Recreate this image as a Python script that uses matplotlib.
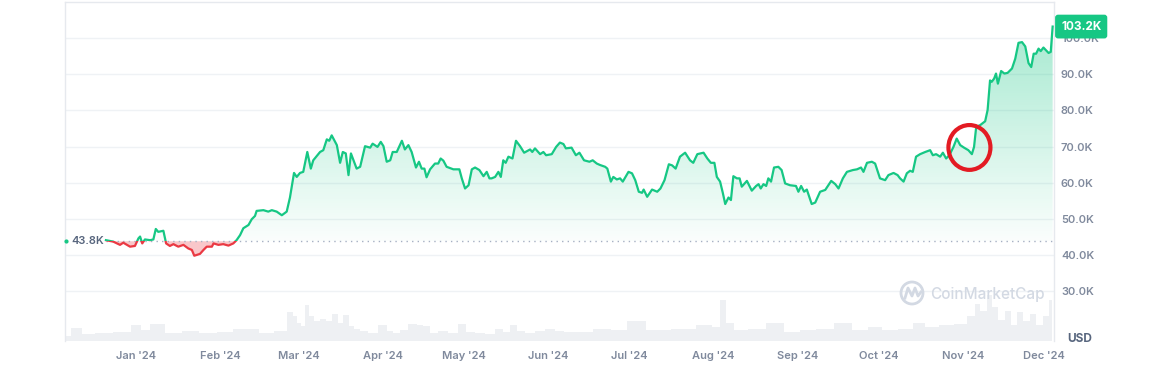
import numpy as np
import pandas as pd
import matplotlib
matplotlib.use('Agg')
import matplotlib.pyplot as plt
from matplotlib.patches import Ellipse, Rectangle
from matplotlib.path import Path
from matplotlib.colors import LinearSegmentedColormap
from matplotlib.lines import Line2D

plt.rcParams['font.family'] = ['Inter', 'DejaVu Sans']

# dias contados a partir de 1 jan 2024, preco em milhares de USD
start = pd.Timestamp('2024-01-01')
price_days = [-11.1, -8.4, -5.9, -4.7, -2.2, -0.4, 0.9, 1.5, 2.3, 3.3, 5.2, 6.4, 7.3, 8.2, 10.1,
              11.1, 12.5, 13.8, 15.6, 17.5, 19.3, 20.6, 21.5, 23.6, 24.9, 26.1, 28.0, 28.6, 30.4,
              32.2, 34.1, 35.9, 37.1, 38.4, 39.6, 41.5, 42.7, 43.9, 44.5, 47.0, 48.8, 50.1, 51.9,
              53.8, 55.6, 56.8, 58.3, 59.3, 60.5, 61.7, 63.2, 64.5, 65.4, 67.9, 69.1, 70.4, 71.3,
              72.2, 74.1, 75.3, 76.3, 77.4, 78.4, 79.3, 81.4, 82.7, 84.5, 86.4, 87.3, 89.1, 90.3,
              91.3, 92.5, 93.8, 94.7, 96.2, 98.1, 99.2, 100.5, 101.7, 103.3, 104.4, 105.4, 106.4,
              107.2, 108.5, 110.3, 111.5, 112.4, 113.4, 114.6, 117.1, 119.3, 120.2, 121.4, 122.7,
              123.9, 125.1, 126.7, 128.2, 129.4, 130.4, 131.2, 132.5, 133.7, 134.6, 135.5, 136.4,
              137.4, 138.9, 140.2, 141.7, 143.2, 145.4, 146.2, 147.2, 149.1, 150.3, 151.3, 153.4,
              155.0, 156.4, 157.7, 158.6, 160.7, 162.3, 163.6, 165.3, 167.3, 168.5, 170.0, 171.2,
              173.1, 173.9, 175.2, 176.1, 177.4, 178.6, 179.6, 181.7, 183.0, 184.2, 185.5, 186.7,
              187.3, 188.6, 190.4, 192.3, 193.5, 195.0, 196.6, 197.8, 199.1, 200.7, 202.6, 204.4,
              205.6, 207.1, 209.4, 210.8, 212.1, 213.4, 214.3, 215.5, 216.5, 217.4, 218.6, 219.5,
              220.4, 221.7, 222.7, 223.5, 225.4, 227.2, 228.8, 229.7, 230.5, 231.5, 232.5, 233.3,
              234.3, 235.4, 237.0, 238.2, 239.5, 241.3, 243.5, 244.4, 245.4, 246.5, 247.5, 249.3,
              250.6, 252.4, 254.3, 256.5, 258.0, 259.2, 260.8, 262.3, 264.5, 266.0, 267.5, 268.4,
              269.7, 271.5, 272.7, 274.5, 276.4, 277.6, 279.5, 281.0, 281.9, 283.2, 284.4, 285.6,
              286.6, 287.8, 289.3, 291.2, 293.0, 294.0, 295.2, 296.7, 297.7, 298.9, 300.1, 301.6,
              302.8, 304.1, 305.5, 307.1, 308.4, 309.2, 310.0, 311.4, 313.3, 314.2, 315.1, 315.7,
              316.6, 317.3, 318.0, 319.2, 320.4, 321.6, 323.2, 324.4, 325.6, 326.9, 328.1, 329.3,
              330.3, 331.2, 332.1, 333.0, 333.8, 334.8, 335.8, 336.7, 337.5, 338.2]
price_k = [44.1, 43.7, 42.8, 43.4, 42.3, 42.5, 44.6, 45.1, 43.2, 44.3, 44.1, 44.3, 47.2, 46.4, 46.7,
           43.2, 42.5, 43.0, 42.3, 42.8, 41.8, 41.4, 39.8, 40.3, 41.4, 42.3, 42.3, 43.2, 42.8,
           43.0, 42.6, 43.2, 44.1, 45.5, 47.4, 48.3, 49.9, 50.8, 52.2, 52.4, 52.0, 52.4, 52.0,
           51.0, 52.0, 55.9, 62.7, 61.6, 62.7, 63.0, 68.5, 63.9, 66.2, 68.5, 69.0, 72.0, 71.6,
           73.1, 70.4, 65.5, 68.5, 68.1, 62.1, 68.1, 63.9, 64.4, 70.1, 69.7, 70.8, 69.9, 71.3,
           70.1, 65.8, 66.2, 68.5, 68.5, 71.6, 69.2, 70.4, 68.5, 64.2, 65.8, 63.9, 63.9,
           61.5, 63.7, 65.3, 65.3, 66.7, 66.1, 64.4, 63.7, 63.7, 61.2, 58.4, 59.3,
           63.7, 64.2, 63.5, 61.8, 63.0, 61.2, 61.2, 61.6, 63.0, 61.6, 66.2, 65.5,
           67.2, 66.7, 71.6, 70.1, 68.3, 69.2, 68.5, 69.5, 67.9, 68.5, 67.6, 67.9,
           69.9, 71.1, 70.7, 69.5, 69.7, 67.6, 68.3, 66.2, 65.8, 66.2, 65.3, 64.9,
           64.4, 63.9, 60.3, 61.6, 60.9, 61.2, 60.3, 63.0, 62.6, 60.7, 57.5, 57.2,
           58.1, 56.1, 58.1, 57.5, 58.4, 60.7, 65.1, 64.8, 63.9, 67.2, 68.3, 66.2,
           65.5, 67.9, 68.3, 66.7, 65.5, 65.5, 61.6, 60.3, 57.2, 54.1, 55.9, 55.2,
           61.8, 61.2, 61.2, 58.9, 60.5, 57.8, 59.1, 59.6, 58.4, 59.6, 59.1, 61.2,
           60.3, 64.2, 64.4, 63.5, 59.8, 59.3, 59.1, 57.5, 59.1, 57.5, 58.1, 54.1,
           54.5, 57.5, 58.0, 60.5, 59.6, 58.4, 61.2, 63.0, 63.5, 63.7, 64.2, 63.0,
           65.5, 65.8, 65.3, 61.2, 60.7, 62.1, 62.7, 62.1, 61.2, 60.3, 62.6, 63.3,
           63.0, 67.2, 67.9, 68.5, 69.0, 67.6, 67.9, 67.2, 68.3, 66.7, 67.6, 69.9,
           72.2, 70.4, 69.7, 69.0, 67.9, 69.9, 75.5, 75.9, 77.0, 80.1, 88.3, 87.9,
           88.8, 90.2, 87.4, 90.9, 90.2, 90.4, 91.6, 94.3, 98.7, 98.9, 97.7, 93.1,
           92.0, 95.7, 95.7, 97.1, 96.4, 97.4, 96.6, 95.9, 96.2, 103.2]

# volume (bilhoes USD, estimado pela altura das barras)
vol_days = [-26.2, -21.9, -18.2, -12.1, -4.7, 0.9, 2.7, 7.6, 13.8, 20.5, 26.1, 33.5, 38.4, 42.7,
            48.2, 53.8, 57.5, 58.7, 59.9, 61.7, 63.2, 64.8, 66.4, 69.1, 71.0, 73.4, 75.3, 77.5,
            79.6, 81.4, 83.9, 87.0, 91.3, 93.7, 96.2, 98.7, 102.3, 104.8, 107.2, 109.7, 113.4,
            117.1, 120.2, 123.2, 126.9, 130.6, 134.3, 136.8, 139.2, 141.7, 145.4, 149.1, 152.8,
            156.5, 159.4, 165.0, 172.5, 178.0, 184.4, 192.2, 202.8, 210.7, 214.6, 216.7, 218.7,
            222.6, 229.2, 235.8, 242.4, 247.6, 254.2, 260.8, 267.4, 272.7, 277.9, 284.5, 288.5,
            293.8, 299.0, 304.3, 308.9, 310.2, 312.9, 314.8, 316.8, 319.5, 321.4, 324.1, 326.1,
            328.7, 330.7, 333.3, 335.9, 337.9]
vol_bn = [15, 39, 21, 24, 27, 48, 33, 51, 24, 30, 24, 27, 36, 36,
          24, 30, 87, 75, 54, 45, 108, 75, 60, 66, 60, 81, 54, 78,
          45, 36, 30, 24, 48, 30, 24, 33, 51, 48, 45, 24, 30,
          24, 51, 27, 24, 21, 36, 27, 48, 30, 24, 30, 36,
          30, 27, 27, 36, 33, 60, 33, 36, 48, 42, 123, 54,
          33, 36, 54, 27, 33, 36, 54, 33, 42, 33, 36, 54,
          42, 48, 51, 75, 111, 90, 138, 102, 63, 90, 48, 87,
          60, 81, 48, 75, 123]

base_k = 43.8
last_k = 103.2
y_ticks = [30, 40, 50, 60, 70, 80, 90, 100]
month_labels = ["Jan '24", "Feb '24", "Mar '24", "Apr '24", "May '24", "Jun '24",
                "Jul '24", "Aug '24", "Sep '24", "Oct '24", "Nov '24", "Dec '24"]

green = '#16c784'
red = '#ea3943'
grey_txt = '#808a9d'

x = np.array(price_days)
y = np.array(price_k)
xmin, xmax = -26.2, 338.7
ymin, ymax = 16.2, 110

fig = plt.figure(figsize=(11.61, 3.75), dpi=100)
rect = [65 / 1161, 1 - 341 / 375, (1054 - 65) / 1161, 339 / 375]
axv = fig.add_axes(rect, zorder=1)
ax = fig.add_axes(rect, zorder=2)
ax.patch.set_visible(False)

# volume ao fundo
axv.fill_between(vol_days, vol_bn, step='mid', color='#eef0f3', lw=0)
axv.set_xlim(xmin, xmax)
axv.set_ylim(0, 1017)
axv.axis('off')

ax.set_xlim(xmin, xmax)
ax.set_ylim(ymin, ymax)

# preenchimento verde com degrade
poly = ax.fill_between(x, y, base_k, where=y >= base_k, interpolate=True,
                       facecolor='none', edgecolor='none')
clip = Path.make_compound_path(*poly.get_paths())
cmap = LinearSegmentedColormap.from_list('g', [(0.086, 0.78, 0.52, 0.02), (0.086, 0.78, 0.52, 0.42)])
grad = np.linspace(0, 1, 256).reshape(-1, 1)
im = ax.imshow(grad, cmap=cmap, origin='lower', aspect='auto',
               extent=[xmin, xmax, base_k, ymax], zorder=1)
im.set_clip_path(clip, transform=ax.transData)
ax.set_xlim(xmin, xmax)
ax.set_ylim(ymin, ymax)

# preenchimento vermelho abaixo da base
ax.fill_between(x, y, base_k, where=y < base_k, interpolate=True,
                facecolor=red, alpha=0.28, edgecolor='none', zorder=1)

# linha: verde acima da base, vermelha abaixo
up = Rectangle((xmin, base_k), xmax - xmin, 200, transform=ax.transData)
down = Rectangle((xmin, base_k - 200), xmax - xmin, 200, transform=ax.transData)
l1, = ax.plot(x, y, color=green, lw=1.6, zorder=4, solid_joinstyle='round')
l1.set_clip_path(up)
l2, = ax.plot(x, y, color=red, lw=1.6, zorder=4, solid_joinstyle='round')
l2.set_clip_path(down)

ax.hlines(base_k, x[0], xmax, colors='#a6b0c3', lw=1, linestyles=(0, (1, 3)), zorder=2)
ax.plot([xmin + 0.5], [base_k], 'o', color=green, ms=2, zorder=4, clip_on=False)
ax.text(-23.8, base_k, '43.8K', ha='left', va='center', fontsize=8,
        fontweight='semibold', color='#58667e', zorder=5)

# eixos
ax.yaxis.tick_right()
ax.set_yticks(y_ticks)
ax.set_yticklabels([f'{v:.1f}K' for v in y_ticks])
ax.grid(axis='y', color='#eff2f5', lw=1)
ax.set_axisbelow(True)
months = pd.date_range('2024-01-01', '2024-12-01', freq='MS')
ax.set_xticks((months - start).days)
ax.set_xticklabels(month_labels)
ax.tick_params(axis='x', length=0, pad=7, labelsize=8, labelcolor=grey_txt)
ax.tick_params(axis='y', length=0, pad=5, labelsize=8, labelcolor=grey_txt)
for lab in ax.get_yticklabels() + ax.get_xticklabels():
    lab.set_fontweight('semibold')
for s in ['top', 'left', 'right']:
    ax.spines[s].set_color('#e6e9ee')
    ax.spines[s].set_linewidth(1)
ax.spines['bottom'].set_visible(False)

# etiqueta do ultimo preco
ax.annotate('103.2K', xy=(1, last_k), xycoords=('axes fraction', 'data'),
            xytext=(7, 0), textcoords='offset pixels', ha='left', va='center',
            fontsize=8.5, fontweight='bold', color='white', zorder=10, annotation_clip=False,
            bbox=dict(boxstyle='round,pad=0.5,rounding_size=0.25', fc=green, ec='none'))

fig.text(1080 / 1161, 1 - 339 / 375, 'USD', ha='center', va='center', fontsize=8.5,
         fontweight='bold', color='#58667e')

# circulo vermelho em volta da queda de novembro
ax.add_patch(Ellipse((307.5, 69.75), 15.5, 12.4, fill=False, ec='#e31b23', lw=3, zorder=6))

# marca d'agua
wm = '#d3d9e3'
fig.patches.append(Ellipse((912 / 1161, 1 - 293 / 375), 22 / 1161, 22 / 375, fill=False,
                           ec=wm, lw=2, transform=fig.transFigure, zorder=3))
fig.lines.append(Line2D([(905) / 1161, 908 / 1161, 912 / 1161, 915 / 1161, 918 / 1161, 921 / 1161],
                        [1 - 298 / 375, 1 - 288 / 375, 1 - 296 / 375, 1 - 288 / 375, 1 - 296 / 375, 1 - 292 / 375],
                        color=wm, lw=2, transform=fig.transFigure, zorder=3))
fig.text(930 / 1161, 1 - 294 / 375, 'CoinMarketCap', ha='left', va='center', fontsize=11,
         color=wm, fontweight='medium', zorder=3)

fig.savefig('out.png', dpi=100)
